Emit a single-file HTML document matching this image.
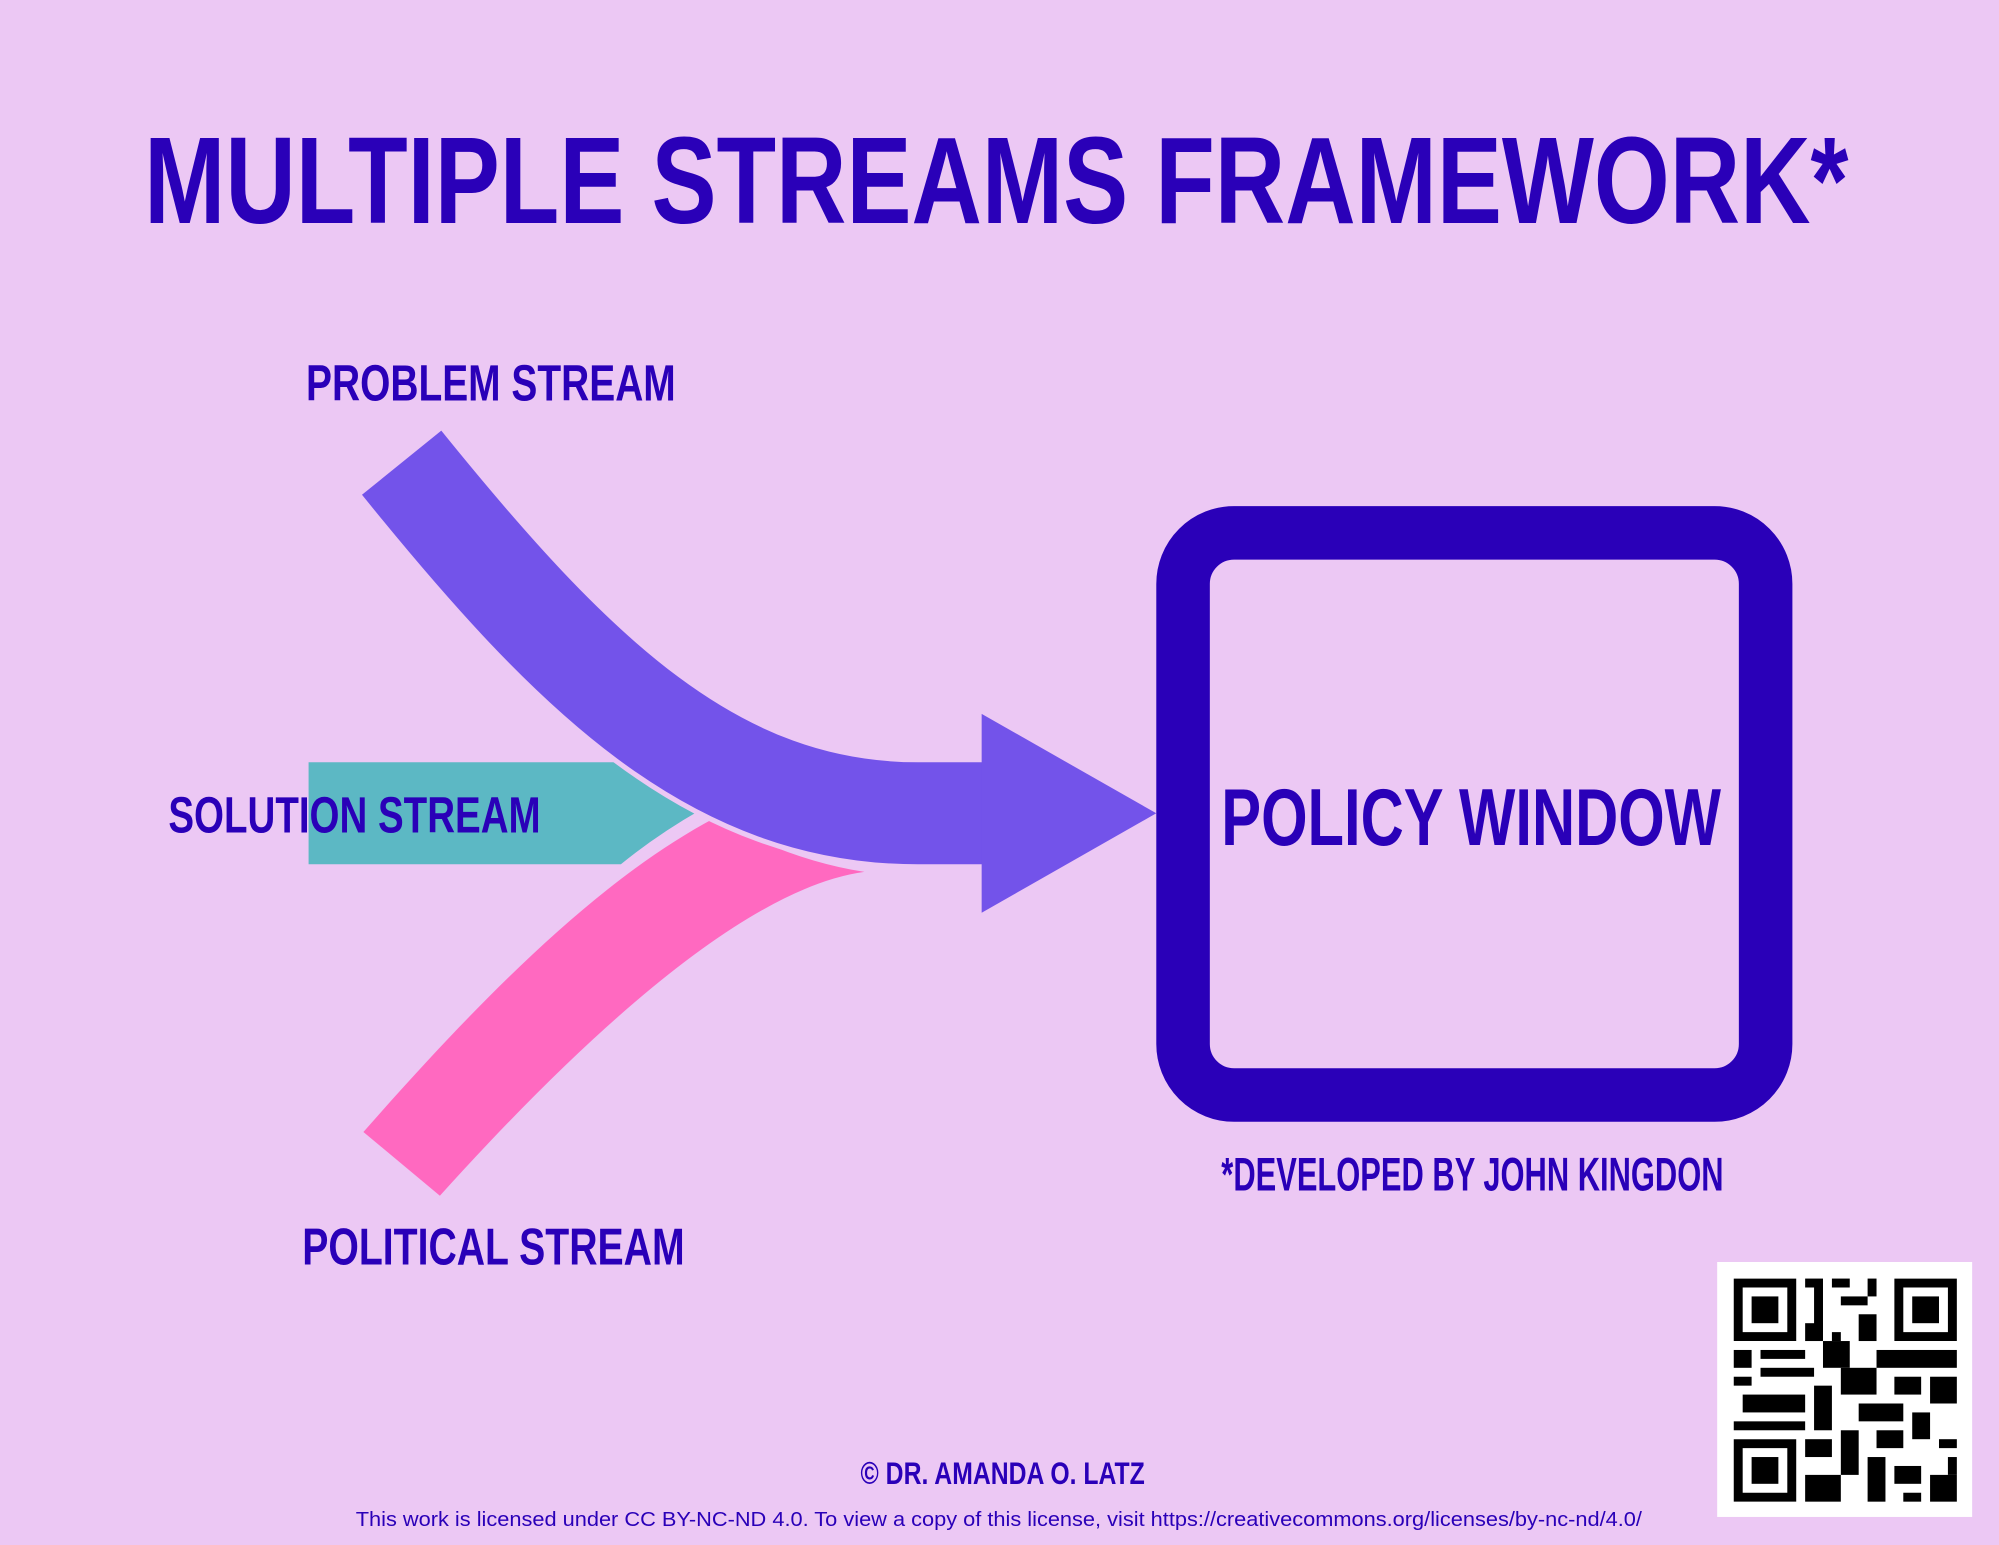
<!DOCTYPE html>
<html><head><meta charset="utf-8"><style>
html,body{margin:0;padding:0;background:#ecc8f4;}
svg{display:block}
</style></head><body>
<svg width="1999" height="1545" viewBox="0 0 1568 1212" xmlns="http://www.w3.org/2000/svg">
<rect width="1568" height="1212" fill="#ecc8f4"/>
<g font-family="Liberation Sans, sans-serif" font-weight="bold" fill="#2a00b8">
<text x="113" y="175" font-size="97" textLength="1337" lengthAdjust="spacingAndGlyphs">MULTIPLE STREAMS FRAMEWORK*</text>
<text x="240" y="314" font-size="40" textLength="290" lengthAdjust="spacingAndGlyphs">PROBLEM STREAM</text>
</g>
<!-- solution -->
<path d="M242,598 L487,598 Q515,620 550,635 Q515,655 487,678 L242,678 Z" fill="#5cb8c4"/>
<!-- political -->
<path d="M285,888 C380,780 470,690 560,642 Q620,675 678,684 Q560,700 345,938 Z" fill="#ff69c0"/>
<!-- problem -->
<path d="M315,363 C450,530 560,638 720,638 L775,638" fill="none" stroke="#ecc8f4" stroke-width="88"/>
<path d="M315,363 C450,530 560,638 720,638 L775,638" fill="none" stroke="#7353ea" stroke-width="80"/>
<path d="M770,560 L907,638 L770,716 Z" fill="#7353ea"/>
<!-- box -->
<rect x="928" y="418" width="457" height="441" rx="40" fill="none" stroke="#2a00b8" stroke-width="42"/>
<g font-family="Liberation Sans, sans-serif" font-weight="bold" fill="#2a00b8">
<text x="132" y="653" font-size="40" textLength="292" lengthAdjust="spacingAndGlyphs">SOLUTION STREAM</text>
<text x="237" y="992" font-size="41" textLength="300" lengthAdjust="spacingAndGlyphs">POLITICAL STREAM</text>
<text x="958" y="663" font-size="63" textLength="392" lengthAdjust="spacingAndGlyphs">POLICY WINDOW</text>
<text x="958" y="934" font-size="37" textLength="394" lengthAdjust="spacingAndGlyphs">*DEVELOPED BY JOHN KINGDON</text>
<text x="675" y="1164" font-size="25" textLength="223" lengthAdjust="spacingAndGlyphs">© DR. AMANDA O. LATZ</text>
<text x="279" y="1197" font-size="16" font-weight="normal" textLength="1009" lengthAdjust="spacingAndGlyphs">This work is licensed under CC BY-NC-ND 4.0. To view a copy of this license, visit https://creativecommons.org/licenses/by-nc-nd/4.0/</text>
</g>
<!-- QR -->
<rect x="1347" y="990" width="200" height="200" fill="#fff"/>
<g fill="#000">
<path d="M1360,1003h49v49h-49zM1367,1010v35h35v-35z" fill-rule="evenodd"/>
<rect x="1374" y="1017" width="21" height="21"/>
<path d="M1486,1003h49v49h-49zM1493,1010v35h35v-35z" fill-rule="evenodd"/>
<rect x="1500" y="1017" width="21" height="21"/>
<path d="M1360,1129h49v49h-49zM1367,1136v35h35v-35z" fill-rule="evenodd"/>
<rect x="1374" y="1143" width="21" height="21"/>
<rect x="1416" y="1003" width="14" height="7"/><rect x="1437" y="1003" width="14" height="7"/><rect x="1465" y="1003" width="7" height="14"/>
<rect x="1423" y="1010" width="7" height="35"/><rect x="1444" y="1017" width="21" height="7"/><rect x="1458" y="1031" width="14" height="21"/>
<rect x="1416" y="1038" width="14" height="14"/><rect x="1437" y="1045" width="7" height="7"/>
<rect x="1360" y="1059" width="14" height="14"/><rect x="1381" y="1059" width="35" height="7"/><rect x="1430" y="1052" width="21" height="21"/>
<rect x="1472" y="1059" width="63" height="14"/><rect x="1360" y="1080" width="14" height="7"/><rect x="1381" y="1073" width="42" height="7"/>
<rect x="1444" y="1073" width="28" height="21"/><rect x="1486" y="1080" width="21" height="14"/><rect x="1514" y="1080" width="21" height="21"/>
<rect x="1367" y="1094" width="49" height="14"/><rect x="1423" y="1087" width="14" height="35"/><rect x="1458" y="1101" width="35" height="14"/>
<rect x="1360" y="1115" width="56" height="7"/><rect x="1500" y="1108" width="14" height="21"/><rect x="1472" y="1122" width="21" height="14"/>
<rect x="1416" y="1129" width="21" height="14"/><rect x="1444" y="1122" width="14" height="35"/><rect x="1521" y="1129" width="14" height="7"/>
<rect x="1416" y="1157" width="28" height="21"/><rect x="1465" y="1143" width="14" height="35"/><rect x="1486" y="1150" width="21" height="14"/>
<rect x="1514" y="1157" width="21" height="21"/><rect x="1493" y="1171" width="14" height="7"/><rect x="1528" y="1143" width="7" height="14"/>
</g>
</svg>
</body></html>
